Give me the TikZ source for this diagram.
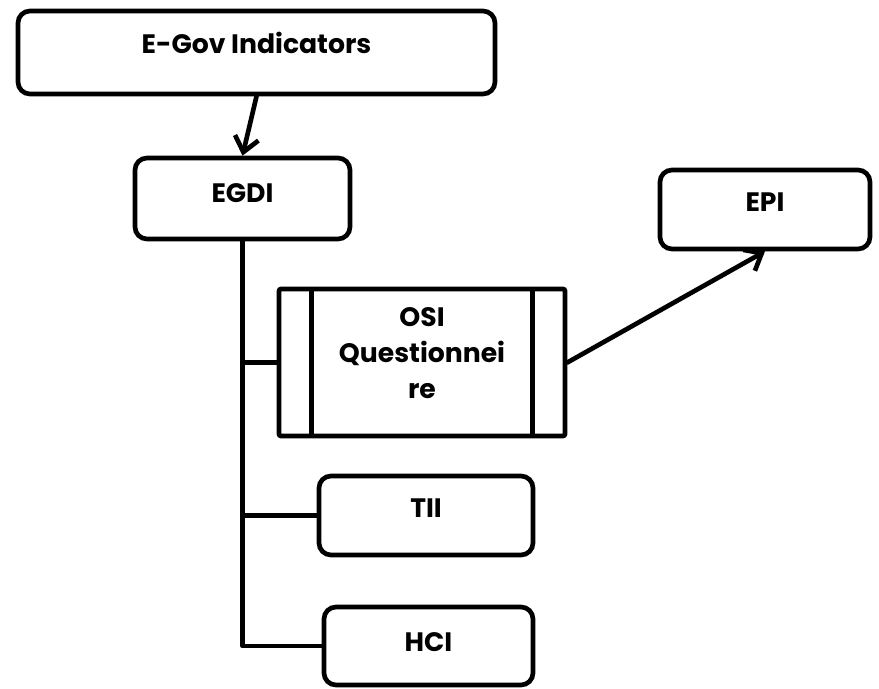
\documentclass[tikz,border=0pt]{standalone}
\usepackage{fontspec}
\setmainfont{Poppins}
\usetikzlibrary{arrows.meta}
\begin{document}
\begin{tikzpicture}[x=0.75pt,y=-0.75pt,
  line width=3.5pt,
  box/.style={draw, rounded corners=9pt, inner sep=0pt},
  plainbox/.style={draw, rounded corners=1.5pt, inner sep=0pt},
  lbl/.style={font=\fontsize{20}{27}\selectfont\bfseries, align=center, inner sep=0pt},
  conn/.style={line cap=round, line join=round},
  arr/.style={conn, -{Straight Barb[length=11pt, width=18pt, line width=3.5pt]}}
]
\useasboundingbox (0,0) rectangle (879,689);

% boxes (centre-line coordinates)
\node[box, minimum width=357.75pt, minimum height=62.25pt] (egov) at (256.5,52.5) {};
\node[box, minimum width=161.25pt, minimum height=60.75pt] (egdi) at (242.5,198.5) {};
\node[box, minimum width=157.5pt, minimum height=59.25pt] (epi) at (765,209.5) {};
\node[plainbox, minimum width=214.5pt, minimum height=110.25pt] (osi) at (422,362.5) {};
\node[box, minimum width=160.5pt, minimum height=59.25pt] (tii) at (426,515.5) {};
\node[box, minimum width=156.75pt, minimum height=58.5pt] (hci) at (428.5,646) {};

% side bars of the process box
\draw ([xshift=26.25pt]osi.north west) -- ([xshift=26.25pt]osi.south west);
\draw ([xshift=-26.25pt]osi.north east) -- ([xshift=-26.25pt]osi.south east);

% labels
\node[lbl] (egovt) at (256.5,43) {E-Gov Indicators};
\node[lbl] (egdit) at (242.5,193) {EGDI};
\node[lbl] (epit) at (765,202) {EPI};
\node[lbl] (osit) at (422,353) {OSI\\Questionnei\\re};
\node[lbl] (tiit) at (426,508) {TII};
\node[lbl] (hcit) at (428.5,642) {HCI};

% connectors
\draw[arr] (egov.south) -- (egdi.north);
\draw[conn] (egdi.south) |- (hci.west);
\draw[conn] (egdi.south |- osi.west) -- (osi.west);
\draw[conn] (egdi.south |- tii.west) -- (tii.west);
\draw[arr] (osi.east) -- (epi.south);
\end{tikzpicture}
\end{document}
